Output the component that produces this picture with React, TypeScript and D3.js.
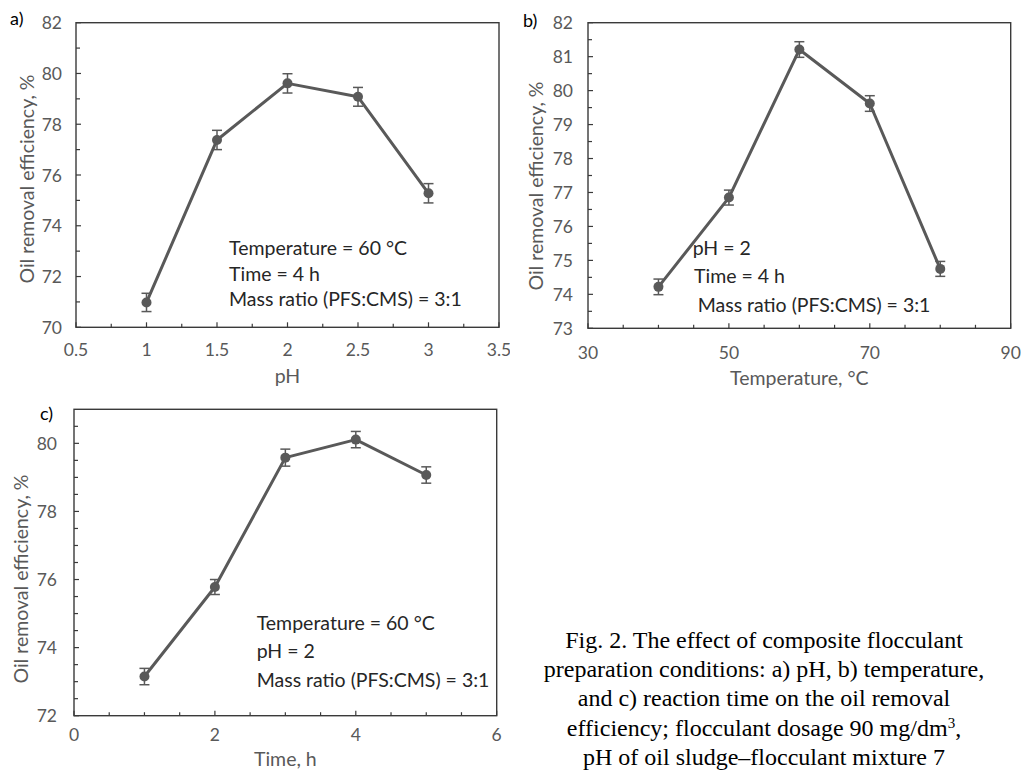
import React from "react";
import * as d3 from "d3";

// ---------- data ----------
const phValues = [1, 1.5, 2, 2.5, 3];
const phEfficiency = [70.98, 77.38, 79.61, 79.08, 75.28];
const phError = [0.36, 0.38, 0.38, 0.37, 0.38];

const tempValues = [40, 50, 60, 70, 80];
const tempEfficiency = [74.22, 76.85, 81.21, 79.62, 74.75];
const tempError = [0.23, 0.22, 0.23, 0.23, 0.22];

const timeValues = [1, 2, 3, 4, 5];
const timeEfficiency = [73.15, 75.78, 79.58, 80.11, 79.07];
const timeError = [0.24, 0.22, 0.25, 0.24, 0.24];

const phXTicks = [0.5, 1, 1.5, 2, 2.5, 3, 3.5];
const phXMinor = [0.75, 1.25, 1.75, 2.25, 2.75, 3.25];
const phYTicks = [70, 72, 74, 76, 78, 80, 82];
const phYMinor = [71, 73, 75, 77, 79, 81];

const tempXTicks = [30, 50, 70, 90];
const tempXMinor = [35, 40, 45, 55, 60, 65, 75, 80, 85];
const tempYTicks = [73, 74, 75, 76, 77, 78, 79, 80, 81, 82];
const tempYMinor = [73.5, 74.5, 75.5, 76.5, 77.5, 78.5, 79.5, 80.5, 81.5];

const timeXTicks = [0, 2, 4, 6];
const timeXMinor = [0.5, 1, 1.5, 2.5, 3, 3.5, 4.5, 5, 5.5];
const timeYTicks = [72, 74, 76, 78, 80];
const timeYMinor = [72.5, 73, 73.5, 74.5, 75, 75.5, 76.5, 77, 77.5, 78.5, 79, 79.5, 80.5];

const yTitle = "Oil removal efficiency, %";

const captionLines = [
  "Fig. 2. The effect of composite flocculant",
  "preparation conditions: a) pH, b) temperature,",
  "and c) reaction time on the oil removal",
  "efficiency; flocculant dosage 90 mg/dm",
  "pH of oil sludge–flocculant mixture 7",
];

const FONT = "Lato, 'Open Sans', sans-serif";
const LINE = "#595959";
const AXIS = "#3a3a3a";
const LABEL = "#595959";
const TEXT = "#262626";
const TICK_FS = 17.5;
const TEXT_FS = 19.5;

type PanelProps = {
  box: { l: number; r: number; t: number; b: number };
  xDomain: [number, number];
  yDomain: [number, number];
  xTicks: number[];
  xMinor: number[];
  yTicks: number[];
  yMinor: number[];
  xs: number[];
  ys: number[];
  errs: number[];
  xTitle: string;
  xTitleY: number;
  yTitleX: number;
  yTitleCY: number;
  xLabelDy: number;
  yLabelGap: number;
  tag: string;
  tagX: number;
  tagY: number;
  notes: { text: string; x: number; y: number }[];
  clip?: string;
};

function Panel(p: PanelProps) {
  const x = d3.scaleLinear().domain(p.xDomain).range([p.box.l, p.box.r]);
  const y = d3.scaleLinear().domain(p.yDomain).range([p.box.b, p.box.t]);
  const pts = p.xs.map((v, i) => [x(v), y(p.ys[i])] as [number, number]);
  const path = d3.line()(pts) || "";
  const cap = 5;
  return (
    <g clipPath={p.clip ? `url(#${p.clip})` : undefined}>
      <rect
        x={p.box.l}
        y={p.box.t}
        width={p.box.r - p.box.l}
        height={p.box.b - p.box.t}
        fill="none"
        stroke={AXIS}
        strokeWidth={1.4}
      />
      {p.xTicks.map((v) => (
        <line key={"xt" + v} x1={x(v)} x2={x(v)} y1={p.box.b} y2={p.box.b - 5} stroke={AXIS} strokeWidth={1.2} />
      ))}
      {p.xMinor.map((v) => (
        <line key={"xm" + v} x1={x(v)} x2={x(v)} y1={p.box.b} y2={p.box.b - 3.5} stroke={AXIS} strokeWidth={1.2} />
      ))}
      {p.yTicks.map((v) => (
        <line key={"yt" + v} x1={p.box.l} x2={p.box.l + 5} y1={y(v)} y2={y(v)} stroke={AXIS} strokeWidth={1.2} />
      ))}
      {p.yMinor.map((v) => (
        <line key={"ym" + v} x1={p.box.l} x2={p.box.l + 4} y1={y(v)} y2={y(v)} stroke={AXIS} strokeWidth={1.2} />
      ))}
      {p.xTicks.map((v) => (
        <text key={"xl" + v} x={x(v)} y={p.box.b + p.xLabelDy} textAnchor="middle" dominantBaseline="central"
          fontFamily={FONT} fontSize={TICK_FS} fill={LABEL}>
          {String(v)}
        </text>
      ))}
      {p.yTicks.map((v) => (
        <text key={"yl" + v} x={p.box.l - p.yLabelGap} y={y(v)} textAnchor="end" dominantBaseline="central"
          fontFamily={FONT} fontSize={TICK_FS} fill={LABEL}>
          {String(v)}
        </text>
      ))}
      <text x={(p.box.l + p.box.r) / 2} y={p.xTitleY} textAnchor="middle" fontFamily={FONT} fontSize={TEXT_FS} fill={LABEL}>
        {p.xTitle}
      </text>
      <text
        transform={`translate(${p.yTitleX},${p.yTitleCY}) rotate(-90)`}
        textAnchor="middle"
        dominantBaseline="central"
        fontFamily={FONT}
        fontSize={TEXT_FS}
        fill={LABEL}
      >
        {yTitle}
      </text>
      <path d={path} fill="none" stroke={LINE} strokeWidth={3} strokeLinejoin="round" />
      {p.xs.map((v, i) => {
        const cx = x(v);
        const y1 = y(p.ys[i] + p.errs[i]);
        const y2 = y(p.ys[i] - p.errs[i]);
        return (
          <g key={"e" + i} stroke={LINE} strokeWidth={1.5}>
            <line x1={cx} x2={cx} y1={y1} y2={y2} />
            <line x1={cx - cap} x2={cx + cap} y1={y1} y2={y1} />
            <line x1={cx - cap} x2={cx + cap} y1={y2} y2={y2} />
          </g>
        );
      })}
      {pts.map((pt, i) => (
        <circle key={"c" + i} cx={pt[0]} cy={pt[1]} r={5} fill={LINE} />
      ))}
      {p.notes.map((n, i) => (
        <text key={"n" + i} x={n.x} y={n.y} fontFamily={FONT} fontSize={TEXT_FS} fill={TEXT}>
          {n.text}
        </text>
      ))}
      <text x={p.tagX} y={p.tagY} fontFamily={FONT} fontSize={18} fill="#000">
        {p.tag}
      </text>
    </g>
  );
}

export default function App() {
  const capX = 764;
  const capY0 = 648;
  const capDy = 29.2;
  return (
    <div style={{ position: "absolute", left: 0, top: 0 }}>
      <svg width={1023} height={770} style={{ display: "block", background: "#fff" }}>
        <defs>
          <clipPath id="clipA">
            <rect x={0} y={0} width={510} height={395} />
          </clipPath>
        </defs>
        <Panel
          box={{ l: 76, r: 499, t: 22.7, b: 327.3 }}
          xDomain={[0.5, 3.5]}
          yDomain={[70, 82]}
          xTicks={phXTicks}
          xMinor={phXMinor}
          yTicks={phYTicks}
          yMinor={phYMinor}
          xs={phValues}
          ys={phEfficiency}
          errs={phError}
          xTitle="pH"
          xTitleY={383}
          yTitleX={26}
          yTitleCY={179}
          xLabelDy={22}
          yLabelGap={14}
          tag="a)"
          tagX={10}
          tagY={25}
          clip="clipA"
          notes={[
            { text: "Temperature = 60 °C", x: 229, y: 255 },
            { text: "Time = 4 h", x: 229, y: 280.5 },
            { text: "Mass ratio (PFS:CMS) = 3:1", x: 229, y: 306 },
          ]}
        />
        <Panel
          box={{ l: 588, r: 1010.7, t: 22.7, b: 328.3 }}
          xDomain={[30, 90]}
          yDomain={[73, 82]}
          xTicks={tempXTicks}
          xMinor={tempXMinor}
          yTicks={tempYTicks}
          yMinor={tempYMinor}
          xs={tempValues}
          ys={tempEfficiency}
          errs={tempError}
          xTitle="Temperature, °C"
          xTitleY={385}
          yTitleX={535}
          yTitleCY={186}
          xLabelDy={24}
          yLabelGap={15}
          tag="b)"
          tagX={523}
          tagY={27}
          notes={[
            { text: "pH = 2", x: 692.7, y: 255 },
            { text: "Time = 4 h", x: 694, y: 283 },
            { text: "Mass ratio (PFS:CMS) = 3:1", x: 697.7, y: 311.5 },
          ]}
        />
        <Panel
          box={{ l: 74, r: 496.7, t: 409.3, b: 715.7 }}
          xDomain={[0, 6]}
          yDomain={[72, 81]}
          xTicks={timeXTicks}
          xMinor={timeXMinor}
          yTicks={timeYTicks}
          yMinor={timeYMinor}
          xs={timeValues}
          ys={timeEfficiency}
          errs={timeError}
          xTitle="Time, h"
          xTitleY={766}
          yTitleX={20}
          yTitleCY={579}
          xLabelDy={19}
          yLabelGap={17}
          tag="c)"
          tagX={40}
          tagY={420}
          notes={[
            { text: "Temperature = 60 °C", x: 256.7, y: 630 },
            { text: "pH = 2", x: 256.7, y: 658.3 },
            { text: "Mass ratio (PFS:CMS) = 3:1", x: 256.7, y: 687.3 },
          ]}
        />
        {captionLines.map((line, i) => (
          <text key={"cap" + i} x={capX} y={capY0 + i * capDy} textAnchor="middle"
            fontFamily="'Liberation Serif', 'Times New Roman', serif" fontSize={24} fill="#000">
            {line}
            {i === 3 ? (
              <>
                <tspan dy={-8} fontSize={15}>3</tspan>
                <tspan dy={8}>,</tspan>
              </>
            ) : null}
          </text>
        ))}
      </svg>
    </div>
  );
}
